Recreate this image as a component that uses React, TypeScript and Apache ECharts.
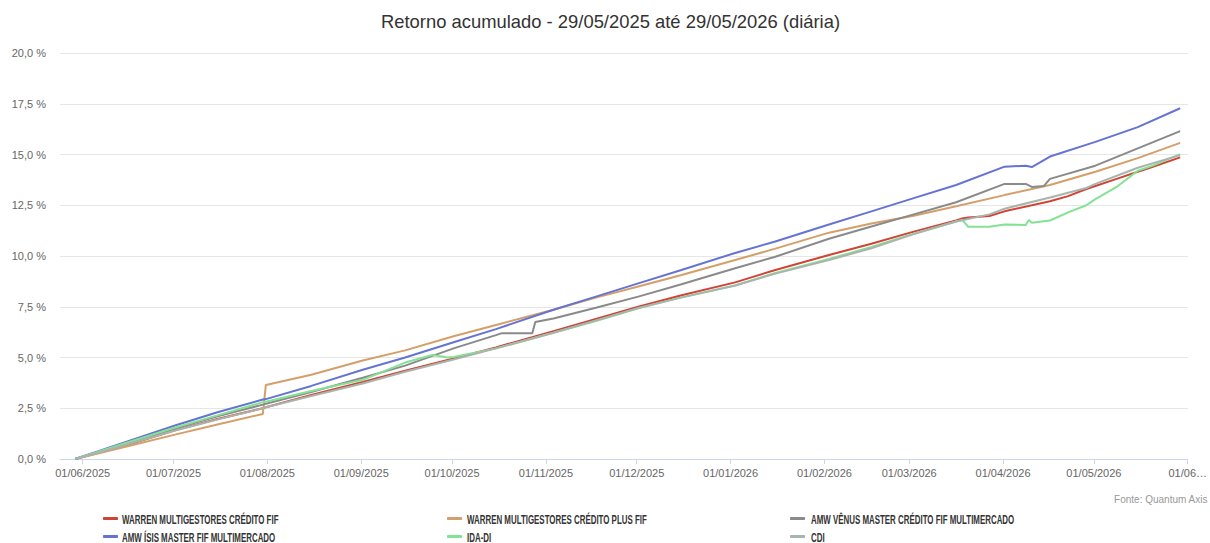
import React, { useEffect, useRef } from "react";
import * as echarts from "echarts";

const TITLE = "Retorno acumulado - 29/05/2025 até 29/05/2026 (diária)";
const SOURCE = "Fonte: Quantum Axis";

const dates = [
  "2025-05-29", "2025-06-16", "2025-07-01", "2025-07-15", "2025-07-30", "2025-07-31",
  "2025-08-15", "2025-09-01", "2025-09-15", "2025-09-24", "2025-09-29", "2025-10-01",
  "2025-10-15", "2025-10-17", "2025-10-27", "2025-10-28", "2025-11-03", "2025-11-17",
  "2025-12-01", "2025-12-15", "2026-01-02", "2026-01-15", "2026-02-02", "2026-02-16",
  "2026-03-02", "2026-03-16", "2026-03-18", "2026-03-20", "2026-03-27", "2026-04-01",
  "2026-04-08", "2026-04-09", "2026-04-10", "2026-04-14", "2026-04-16", "2026-04-22",
  "2026-04-28", "2026-05-01", "2026-05-08", "2026-05-15", "2026-05-20", "2026-05-29",
];

const names = [
  "WARREN MULTIGESTORES CRÉDITO FIF",
  "WARREN MULTIGESTORES CRÉDITO PLUS FIF",
  "AMW VÊNUS MASTER CRÉDITO FIF MULTIMERCADO",
  "AMW ÍSIS MASTER FIF MULTIMERCADO",
  "IDA-DI",
  "CDI",
];

const warrenCredito = [0, 0.72, 1.42, 1.97, 2.5, 2.55, 3.15, 3.8, 4.35, null, null, 4.95,
  5.5, null, null, null, 6.3, 6.9, 7.5, 8.05, 8.7, 9.3, 10.05, 10.6,
  11.2, 11.75, 11.85, 11.9, 11.97, 12.2, null, null, null, null, 12.7, 12.95,
  13.3, 13.45, 13.8, 14.15, 14.4, 14.86];

const warrenPlus = [0, 0.65, 1.2, 1.7, 2.22, 3.65, 4.15, 4.85, 5.35, null, null, 6.05,
  6.6, null, null, null, 7.35, 7.95, 8.5, 9.05, 9.8, 10.35, 11.15, 11.6,
  11.98, 12.45, null, null, null, 13.0, null, null, null, null, 13.5, null,
  null, 14.15, null, 14.82, null, 15.57];

const amwVenus = [0, 0.82, 1.5, 2.1, 2.68, 2.72, 3.3, 4.0, 4.6, null, null, 5.45,
  6.1, 6.2, 6.2, 6.75, 6.92, 7.45, 8.0, 8.6, 9.4, 9.95, 10.85, 11.45,
  12.05, 12.65, null, null, null, 13.55, 13.55, null, 13.4, 13.45, 13.8, null,
  null, 14.45, null, 15.3, null, 16.15];

const amwIsis = [0, 0.9, 1.65, 2.3, 2.93, 2.95, 3.6, 4.4, 5.0, null, null, 5.75,
  6.4, null, null, null, 7.35, 8.0, 8.65, 9.3, 10.15, 10.7, 11.55, 12.2,
  12.85, 13.5, null, null, null, 14.4, 14.45, null, 14.38, null, 14.9, null,
  null, 15.62, null, 16.35, null, 17.28];

const idaDi = [0, 0.85, 1.55, 2.15, 2.8, 2.82, 3.35, 3.9, 4.75, 5.12, 5.0, 5.02,
  5.45, null, null, null, 6.22, 6.8, 7.42, 7.95, 8.55, 9.15, 9.85, 10.45,
  11.1, 11.7, 11.78, 11.44, 11.44, 11.55, 11.53, 11.77, 11.64, null, 11.75, 12.15,
  12.5, 12.8, 13.4, 14.2, 14.45, 15.02];

const cdi = [0, 0.75, 1.4, 1.95, 2.5, 2.55, 3.1, 3.72, 4.3, null, null, 4.9,
  5.45, null, null, null, 6.22, 6.82, 7.44, 7.95, 8.55, 9.12, 9.8, 10.38,
  11.08, 11.7, 11.76, null, 12.05, 12.33, null, null, null, null, 12.88, null,
  13.35, 13.55, null, 14.35, null, 14.97];

const seriesValues = [warrenCredito, warrenPlus, amwVenus, amwIsis, idaDi, cdi];
const colors = ["#d04436", "#d49f69", "#8a8a8a", "#6573d3", "#84e295", "#a9b4ad"];

const yTicks = [0, 2.5, 5, 7.5, 10, 12.5, 15, 17.5, 20];

const FONT = "'Liberation Sans', Arial, sans-serif";

function toTime(s: string) {
  const [y, m, d] = s.split("-").map(Number);
  return new Date(y, m - 1, d, 12).getTime();
}

const pad = (n: number) => (n < 10 ? "0" + n : "" + n);

export default function App() {
  const ref = useRef<HTMLDivElement>(null);
  useEffect(() => {
    if (!ref.current) return;
    const chart = echarts.init(ref.current, null, { renderer: "svg" });
    const xMin = new Date(2025, 4, 24, 12).getTime();
    const xMax = new Date(2026, 5, 1, 0).getTime();

    const legendCols = [103, 447, 790];
    const legendRows = [513, 531];
    const textCols = [122, 467, 811];
    const textRows = [520, 538];

    const legends = names.map((n, i) => ({
      show: true,
      data: [n],
      left: legendCols[i % 3],
      top: legendRows[Math.floor(i / 3)],
      icon: "roundRect",
      itemWidth: 15,
      itemHeight: 3,
      itemGap: 0,
      padding: 0,
      formatter: () => " ",
      textStyle: { fontFamily: FONT, fontSize: 11, color: "#333" },
    }));

    const legendTexts = names.map((n, i) => ({
      type: "text",
      x: textCols[i % 3],
      y: textRows[Math.floor(i / 3)],
      scaleX: 0.66,
      scaleY: 1,
      silent: true,
      style: {
        text: n,
        fill: "#333",
        fontSize: 12,
        fontWeight: "bold",
        fontFamily: FONT,
        verticalAlign: "middle",
        align: "left",
      },
    }));

    chart.setOption({
      animation: false,
      backgroundColor: "#fff",
      title: {
        text: TITLE,
        left: 376,
        top: 7,
        textStyle: { fontFamily: FONT, fontSize: 18.4, fontWeight: "normal", color: "#333" },
      },
      legend: legends,
      grid: { left: 60, right: 3, top: 53, bottom: 84, containLabel: false },
      xAxis: {
        type: "time",
        min: xMin,
        max: xMax,
        splitNumber: 12,
        minInterval: 28 * 86400000,
        maxInterval: 31 * 86400000,
        axisLine: { show: true, lineStyle: { color: "#ccd6eb" } },
        axisTick: { show: true, length: 5, lineStyle: { color: "#ccd6eb" } },
        splitLine: { show: false },
        axisLabel: {
          color: "#666",
          fontSize: 11,
          fontFamily: FONT,
          margin: 8,
          hideOverlap: false,
          alignMaxLabel: "right",
          formatter: (v: number) => {
            const d = new Date(v);
            const txt = pad(d.getDate()) + "/" + pad(d.getMonth() + 1) + "/" + d.getFullYear();
            if (v >= xMax - 86400000) return txt.slice(0, 5) + "…";
            return txt;
          },
        },
      },
      yAxis: {
        type: "value",
        min: yTicks[0],
        max: yTicks[yTicks.length - 1],
        interval: yTicks[1] - yTicks[0],
        axisLine: { show: false },
        axisTick: { show: false },
        splitLine: { lineStyle: { color: "#e6e6e6", width: 1 } },
        axisLabel: {
          color: "#666",
          fontSize: 11,
          fontFamily: FONT,
          margin: 14,
          formatter: (v: number) => v.toFixed(1).replace(".", ",") + " %",
        },
      },
      series: names.map((n, i) => ({
        name: n,
        type: "line",
        showSymbol: false,
        connectNulls: true,
        color: colors[i],
        lineStyle: { width: 2, color: colors[i] },
        data: dates
          .map((d, j) => [toTime(d), seriesValues[i][j]])
          .filter((p) => p[1] !== null),
      })),
      graphic: [
        {
          type: "text",
          right: 2,
          top: 494,
          style: { text: SOURCE, fill: "#999", fontSize: 10, fontFamily: FONT },
        },
        ...legendTexts,
      ],
    });
    return () => chart.dispose();
  }, []);
  return (
    <div
      ref={ref}
      style={{ position: "fixed", left: 0, top: 0, width: 1210, height: 543, background: "#fff" }}
    />
  );
}
